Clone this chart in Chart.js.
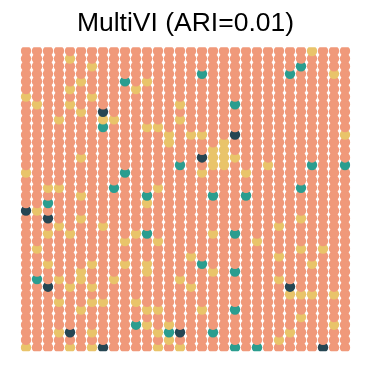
<!DOCTYPE html>
<html>
<head>
<meta charset="utf-8">
<script src="https://cdn.jsdelivr.net/npm/chart.js@4"></script>
<style>
  html, body { margin: 0; background: #fff; }
</style>
</head>
<body>
<canvas id="chart" width="372" height="372"></canvas>
<script>
/* MultiVI spatial clusters, 30 x 40 grid of spots */

const N_COLS = 30;
const N_ROWS = 40;
const COLORS = { other: '#F0997A', yellow: '#E9C46A', teal: '#2A9D8F', dark: '#264653' };

// [row, col] of spots not in the main cluster, row 0 = top
const YELLOW = [
  [0, 26], [1, 4], [2, 6], [3, 28], [4, 5], [4, 11], [5, 4], [5, 10], [6, 0], [6, 6],
  [7, 1], [7, 4], [7, 14], [8, 5], [9, 3], [9, 7], [9, 8], [9, 14], [10, 11], [10, 12],
  [11, 13], [11, 15], [11, 16], [11, 29], [12, 13], [12, 18], [13, 17], [13, 18],
  [14, 5], [14, 17], [14, 18], [14, 19], [15, 17], [15, 18], [15, 22],
  [16, 0], [16, 16], [16, 20], [18, 2], [18, 3], [18, 12], [19, 5], [20, 11], [21, 1],
  [22, 5], [22, 25], [23, 3], [23, 7], [23, 23], [24, 2], [24, 4], [24, 10], [24, 17],
  [25, 9], [25, 12], [25, 21], [26, 1], [26, 25], [26, 27], [27, 15], [27, 23],
  [28, 2], [28, 6], [28, 9], [28, 11], [28, 26], [29, 5], [29, 11], [29, 17],
  [30, 3], [30, 5], [30, 8], [30, 14], [30, 23], [31, 4], [31, 6], [31, 15],
  [32, 24], [32, 25], [32, 26], [32, 28], [33, 3], [33, 6], [33, 7], [33, 10],
  [34, 5], [34, 11], [34, 12], [34, 16], [35, 25], [36, 11], [36, 13], [36, 28],
  [37, 3], [37, 6], [37, 12], [37, 24], [38, 13], [38, 23],
  [39, 0], [39, 4], [39, 6], [39, 12], [39, 14],
];
const TEAL = [
  [2, 25], [3, 16], [3, 24], [4, 9], [7, 19], [10, 7], [15, 14], [15, 26], [15, 29],
  [16, 9], [18, 8], [18, 25], [19, 11], [19, 17], [19, 20], [20, 2], [24, 11], [24, 19],
  [28, 16], [29, 19], [30, 1], [34, 19], [36, 10], [37, 13], [37, 17], [39, 19], [39, 21],
];
const DARK = [
  [8, 7], [11, 19], [14, 16], [21, 0], [22, 2], [31, 2], [31, 24], [37, 4], [37, 14],
  [39, 7], [39, 27],
];

const cellColor = {};
YELLOW.forEach(([r, c]) => { cellColor[r + ',' + c] = COLORS.yellow; });
TEAL.forEach(([r, c]) => { cellColor[r + ',' + c] = COLORS.teal; });
DARK.forEach(([r, c]) => { cellColor[r + ',' + c] = COLORS.dark; });

// bottom rows first so each spot is overlapped by the one above it
const points = [];
const colors = [];
for (let r = N_ROWS - 1; r >= 0; r--) {
  for (let c = 0; c < N_COLS; c++) {
    points.push({ x: c, y: r });
    colors.push(cellColor[r + ',' + c] || COLORS.other);
  }
}

new Chart(document.getElementById('chart'), {
  type: 'scatter',
  data: {
    datasets: [{
      data: points,
      backgroundColor: colors,
      pointRadius: 5.2,
      pointHoverRadius: 5.2,
      pointBorderWidth: 0,
      borderWidth: 0,
    }],
  },
  options: {
    responsive: false,
    animation: false,
    layout: { padding: { left: 20.5, right: 21.5, top: 0, bottom: 20.7 } },
    plugins: {
      legend: { display: false },
      tooltip: { enabled: false },
      title: {
        display: true,
        text: 'MultiVI (ARI=0.01)',
        color: '#000',
        font: { family: "'Liberation Sans', Arial, sans-serif", size: 26.5, weight: 'normal', lineHeight: 1.2 },
        padding: { top: 7.3, bottom: 8.1 },
      },
    },
    scales: {
      x: { type: 'linear', min: -0.5, max: N_COLS - 0.5, display: false },
      y: { type: 'linear', min: -0.5, max: N_ROWS - 0.5, reverse: true, display: false },
    },
  },
});
</script>
</body>
</html>
